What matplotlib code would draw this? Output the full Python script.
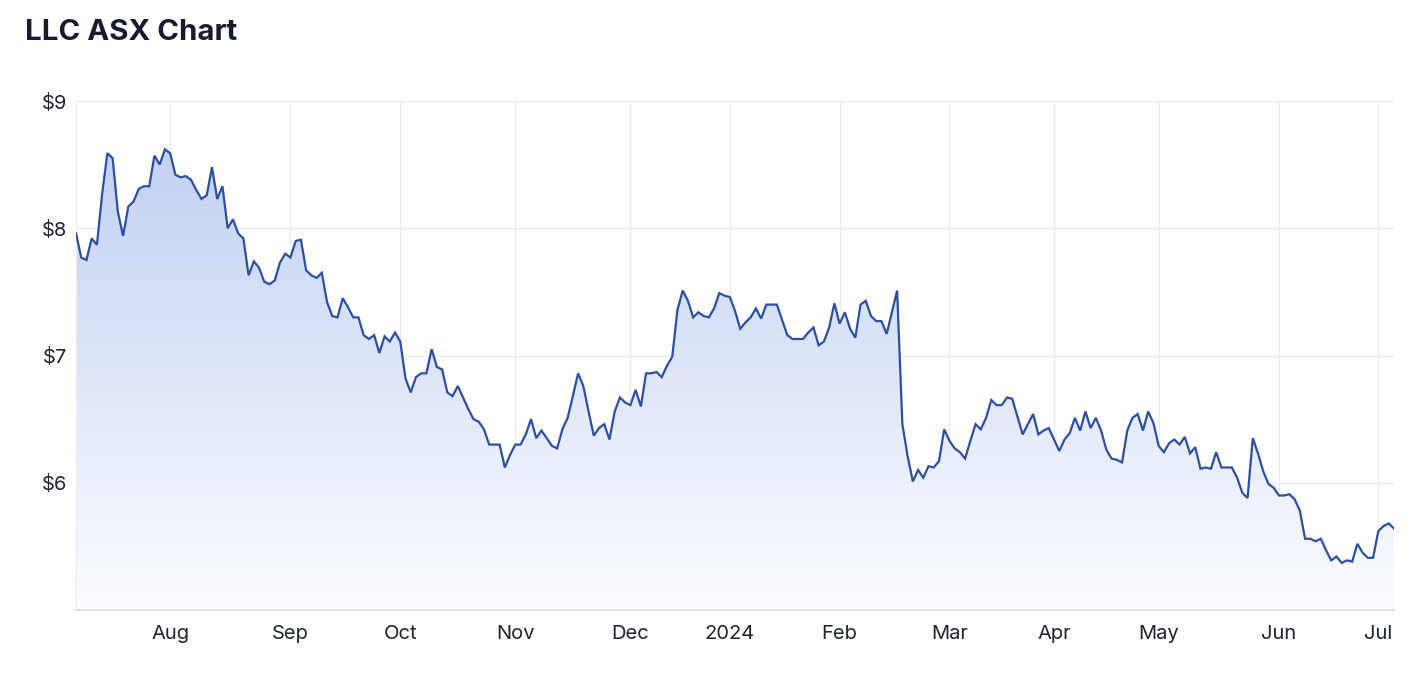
import numpy as np
import pandas as pd
import matplotlib
matplotlib.use("Agg")
import matplotlib.pyplot as plt
from matplotlib.colors import LinearSegmentedColormap

# ---------------- data ----------------
start_date = "2023-07-06"
end_date = "2024-07-04"
asx_holidays = ["2023-12-25", "2023-12-26", "2024-01-01", "2024-01-26",
                "2024-03-29", "2024-04-01", "2024-04-25", "2024-06-10"]

prices = [
    7.96, 7.77, 7.75, 7.92, 7.87, 8.27, 8.59, 8.55, 8.13, 7.94,
    8.17, 8.21, 8.31, 8.33, 8.33, 8.57, 8.50, 8.62, 8.59, 8.42,
    8.40, 8.41, 8.38, 8.30, 8.23, 8.26, 8.48, 8.23, 8.33, 8.00,
    8.07, 7.96, 7.92, 7.63, 7.74, 7.69, 7.58, 7.56, 7.59, 7.73,
    7.80, 7.77, 7.90, 7.91, 7.67, 7.63, 7.61, 7.65, 7.42, 7.31,
    7.30, 7.45, 7.38, 7.30, 7.30, 7.16, 7.13, 7.16, 7.02, 7.15,
    7.11, 7.18, 7.11, 6.82, 6.71, 6.83, 6.86, 6.86, 7.05, 6.91,
    6.89, 6.71, 6.68, 6.76, 6.67, 6.58, 6.50, 6.48, 6.42, 6.30,
    6.30, 6.30, 6.12, 6.22, 6.30, 6.30, 6.38, 6.50, 6.35, 6.41,
    6.35, 6.29, 6.27, 6.42, 6.51, 6.68, 6.86, 6.76, 6.56, 6.37,
    6.43, 6.46, 6.34, 6.56, 6.67, 6.63, 6.61, 6.73, 6.60, 6.86,
    6.86, 6.87, 6.83, 6.92, 6.99, 7.36, 7.51, 7.43, 7.30, 7.34,
    7.31, 7.30, 7.37, 7.49, 7.47, 7.46, 7.35, 7.21, 7.26, 7.30,
    7.37, 7.29, 7.40, 7.40, 7.40, 7.28, 7.16, 7.13, 7.13, 7.13,
    7.18, 7.22, 7.08, 7.11, 7.22, 7.41, 7.25, 7.34, 7.21, 7.14,
    7.40, 7.43, 7.31, 7.27, 7.27, 7.17, 7.34, 7.51, 6.46, 6.21,
    6.01, 6.10, 6.04, 6.13, 6.12, 6.17, 6.42, 6.33, 6.27, 6.24,
    6.19, 6.33, 6.46, 6.42, 6.51, 6.65, 6.61, 6.61, 6.67, 6.66,
    6.52, 6.38, 6.46, 6.54, 6.38, 6.41, 6.43, 6.34, 6.25, 6.34,
    6.39, 6.51, 6.41, 6.56, 6.43, 6.51, 6.41, 6.26, 6.19, 6.18,
    6.16, 6.41, 6.51, 6.54, 6.41, 6.56, 6.47, 6.29, 6.24, 6.31,
    6.34, 6.30, 6.36, 6.23, 6.28, 6.11, 6.12, 6.11, 6.24, 6.12,
    6.12, 6.12, 6.04, 5.92, 5.88, 6.35, 6.23, 6.09, 5.99, 5.96,
    5.90, 5.90, 5.91, 5.87, 5.78, 5.56, 5.56, 5.54, 5.56, 5.47,
    5.39, 5.42, 5.37, 5.39, 5.38, 5.52, 5.45, 5.41, 5.41, 5.62,
    5.66, 5.68, 5.64,
]

month_labels = ["Aug", "Sep", "Oct", "Nov", "Dec", "2024", "Feb", "Mar",
                "Apr", "May", "Jun", "Jul"]
y_ticks = [6, 7, 8, 9]
y_tick_labels = ["$6", "$7", "$8", "$9"]
y_range = (5, 9)
title = "LLC ASX Chart"

# ---------------- derived ----------------
dates = pd.bdate_range(start_date, end_date, freq="C", holidays=asx_holidays)
n = min(len(dates), len(prices))
dates = dates[:n]
vals = np.array(prices[:n])
x = np.arange(n)

# first trading day of each new month (skip the starting partial month)
month_idx = [i for i in range(1, n) if dates[i].month != dates[i - 1].month]
month_idx = month_idx[:len(month_labels)]

# ---------------- figure ----------------
plt.rcParams["font.family"] = ["Inter", "DejaVu Sans"]
fig = plt.figure(figsize=(14.08, 6.86), dpi=100)
ax = fig.add_axes([76 / 1408, 1 - 610 / 686, (1394 - 76) / 1408, (610 - 101) / 686])

ax.set_xlim(0, n - 1)
ax.set_ylim(*y_range)

# gradient fill under curve
top_c = (0.74, 0.805, 0.945)
bot_c = (0.985, 0.99, 1.0)
cmap = LinearSegmentedColormap.from_list("g", [bot_c, top_c])
grad = np.linspace(0, 1, 256).reshape(-1, 1)
poly = ax.fill_between(x, vals, y_range[0], facecolor="none", edgecolor="none")
im = ax.imshow(grad, extent=[0, n - 1, y_range[0], y_range[1]], origin="lower",
               aspect="auto", cmap=cmap, zorder=1, interpolation="bicubic")
im.set_clip_path(poly.get_paths()[0], transform=ax.transData)

ax.plot(x, vals, color="#2c4fa3", linewidth=1.6, zorder=3, solid_joinstyle="miter")

# grid
ax.set_yticks(y_ticks)
ax.set_yticklabels(y_tick_labels)
ax.set_xticks(month_idx)
ax.set_xticklabels(month_labels)
ax.grid(True, color="#ececec", linewidth=1.0, zorder=0)
ax.set_axisbelow(True)
for s in ["top", "right"]:
    ax.spines[s].set_visible(False)
ax.spines["left"].set_color("#ececec")
ax.spines["bottom"].set_color("#d8d8d8")
ax.spines["bottom"].set_linewidth(1.2)
ax.tick_params(axis="both", length=0, labelsize=14.5, colors="#1f2333")
ax.tick_params(axis="x", pad=10.5)
ax.tick_params(axis="y", pad=6.5)
ax.axhline(y_range[1], color="#ececec", linewidth=1.0, zorder=0)

fig.text(25 / 1408, 1 - 33 / 686, title, fontsize=21.2, fontweight="bold",
         color="#161b2e", ha="left", va="center")

fig.savefig("out.png", dpi=100, facecolor="white")
